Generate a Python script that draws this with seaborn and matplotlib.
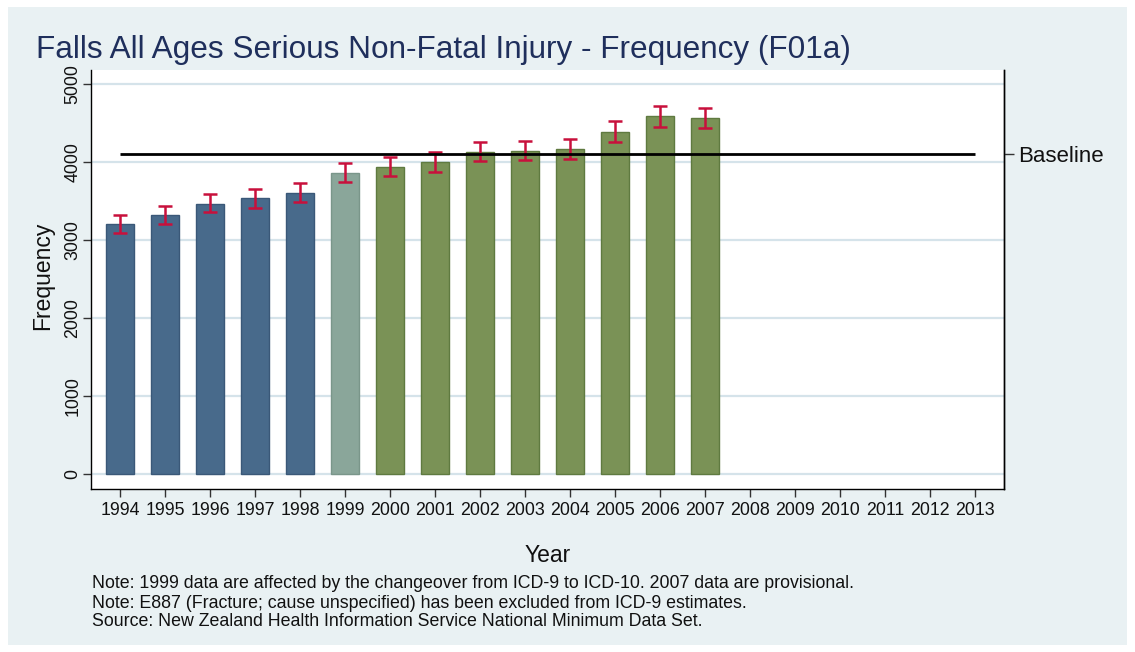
import numpy as np
import pandas as pd
import matplotlib
matplotlib.use("Agg")
import matplotlib.pyplot as plt
from matplotlib.patches import Rectangle
import seaborn as sns

sns.set_theme(style="white")
plt.rcParams['font.family'] = ['Liberation Sans', 'DejaVu Sans']

# data
years = [str(y) for y in range(1994, 2014)]
data_years = [str(y) for y in range(1994, 2008)]
frequency = [3205, 3321, 3466, 3534, 3607, 3863, 3936, 3996, 4133, 4145, 4162, 4385, 4586, 4560]
ci_low = [3094, 3209, 3355, 3414, 3487, 3744, 3816, 3868, 4009, 4021, 4034, 4256, 4453, 4432]
ci_high = [3321, 3436, 3590, 3650, 3727, 3987, 4064, 4125, 4256, 4269, 4295, 4526, 4718, 4696]
baseline = 4100
# ICD-9 years, changeover year, ICD-10 years
bar_colors = ['#486a8b'] * 5 + ['#8aa69a'] + ['#7a9256'] * 8

title = "Falls All Ages Serious Non-Fatal Injury - Frequency (F01a)"
notes = [
    "Note: 1999 data are affected by the changeover from ICD-9 to ICD-10. 2007 data are provisional.",
    "Note: E887 (Fracture; cause unspecified) has been excluded from ICD-9 estimates.",
    "Source: New Zealand Health Information Service National Minimum Data Set.",
]

df = pd.DataFrame({'Year': data_years, 'Frequency': frequency})
palette = dict(zip(data_years, bar_colors))
edge_colors = ['#3a5878'] * 5 + ['#7a968a'] + ['#5f7a40'] * 8

bg = '#e9f1f3'
fig = plt.figure(figsize=(11.35, 6.52), dpi=100, facecolor='white')
fig.patches.append(Rectangle((8 / 1135, 1 - 645 / 652), 1119 / 1135, 638 / 652,
                             transform=fig.transFigure, facecolor=bg,
                             edgecolor='none', zorder=-10))

ax = fig.add_axes([91 / 1135, 1 - 489 / 652, 913 / 1135, 419 / 652])
ax.set_facecolor('white')

sns.barplot(data=df, x='Year', y='Frequency', hue='Year', order=years,
            palette=palette, width=0.62, legend=False, errorbar=None,
            linewidth=1, saturation=1, ax=ax, zorder=3)
for patch, ec in zip(ax.patches, edge_colors):
    patch.set_edgecolor(ec)

xpos = np.arange(len(frequency))
freq = np.array(frequency)
ax.errorbar(xpos, freq, yerr=[freq - np.array(ci_low), np.array(ci_high) - freq],
            fmt='none', ecolor='#c8103c', elinewidth=1.8, capsize=5,
            capthick=1.8, zorder=5)

ax.hlines(baseline, 0, len(years) - 1, color='black', lw=2, zorder=6)

ax.set_xlim(-0.65, len(years) - 1 + 0.64)
ax.set_ylim(-192, 5180)
ax.set_yticks([0, 1000, 2000, 3000, 4000, 5000])
ax.yaxis.grid(True, color='#d5e3ea', lw=1.6, zorder=0)
ax.set_axisbelow(True)

for side in ['left', 'bottom', 'right']:
    ax.spines[side].set_visible(True)
    ax.spines[side].set_color('black')
    ax.spines[side].set_linewidth(1)
ax.spines['top'].set_visible(False)

ax.tick_params(axis='both', which='both', length=6, width=1, color='#333333',
               labelsize=12.8, colors='#111111', direction='out',
               bottom=True, left=True)
ax.tick_params(axis='y', pad=1)
plt.setp(ax.get_yticklabels(), rotation=90, va='center')

ax.set_xlabel('Year', fontsize=16.5, color='#111111', labelpad=18)
ax.set_ylabel('Frequency', fontsize=16.5, color='#111111')
ax.yaxis.set_label_coords(-0.040, 0.508)

ax2 = ax.twinx()
ax2.set_ylim(ax.get_ylim())
ax2.set_yticks([baseline])
ax2.set_yticklabels(['Baseline'])
ax2.tick_params(axis='y', length=7, width=1, labelsize=16, colors='#111111',
                color='#333333', right=True)
for side in ['left', 'top', 'bottom']:
    ax2.spines[side].set_visible(False)
ax2.spines['right'].set_color('black')
ax2.spines['right'].set_linewidth(1)

fig.text(36 / 1135, 1 - 50 / 652, title, fontsize=22.7, color='#1f2f5c',
         va='center', ha='left')

note_y = [584, 603, 621]
for line, yy in zip(notes, note_y):
    fig.text(92 / 1135, 1 - yy / 652, line, fontsize=12.8,
             family=['Liberation Sans Narrow', 'Liberation Sans'],
             color='#111111', va='center', ha='left')

fig.savefig('out.png', dpi=100, facecolor=fig.get_facecolor())
